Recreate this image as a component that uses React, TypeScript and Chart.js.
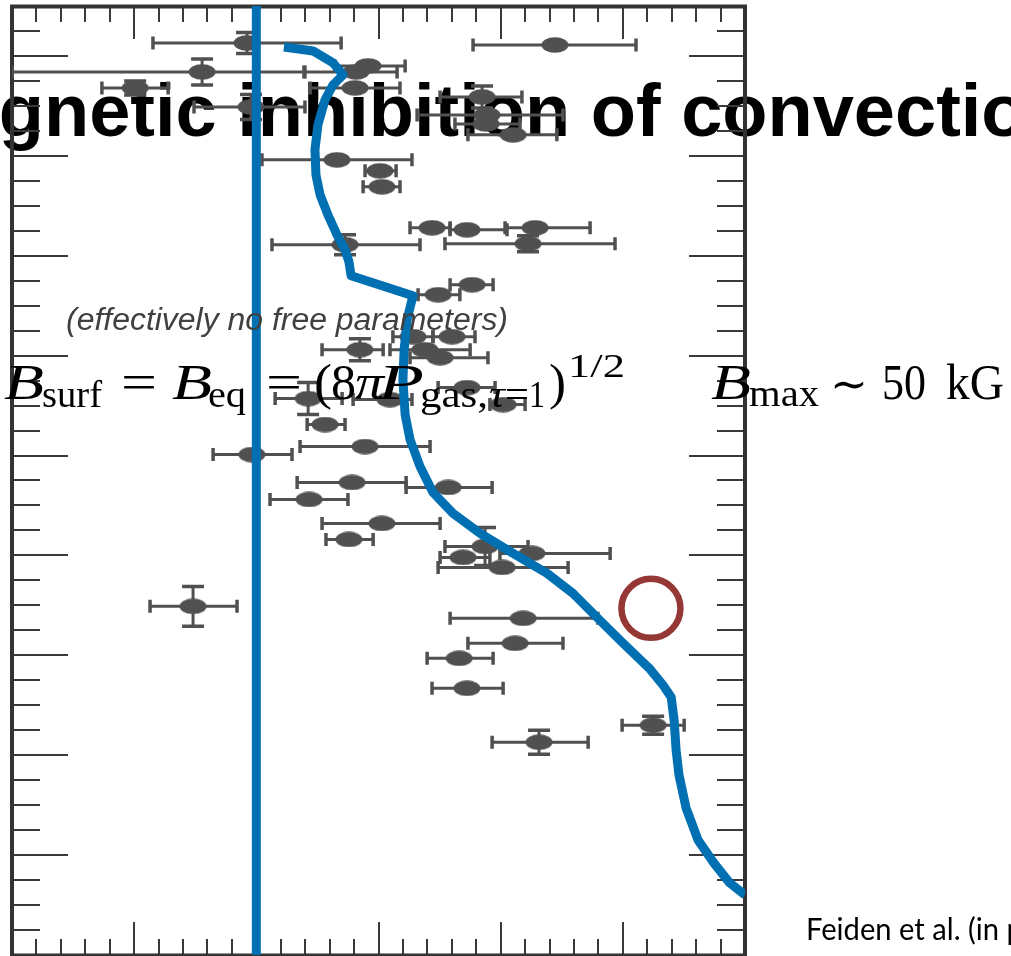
import React, { useEffect, useRef } from 'react';
import { Chart, registerables } from 'chart.js';

Chart.register(...registerables);

// ---- axis set-up (ticks only, no labels shown in the cropped figure) ----
const xMin = -10, xMax = 20, xMinor = 1, xMajor = 5;
const yMin = 0, yMax = 0.95, yMinor = 0.025, yMajor = 0.1;

// ---- observed stars: value, horizontal error range, vertical error ----
const ptX = [-0.38, 12.22, -2.22, 4.57, 4.08, -4.96, -0.22, 4.04, 9.24, 9.44, 9.40, 10.51, 3.30, 5.06, 5.14,
  7.19, 8.62, 11.41, 3.63, 11.12, 8.83, 7.44, 6.41, 8.01, 6.90, 7.52, 4.24, 2.12, 5.47, 8.62, 10.10, 2.81,
  -0.18, 4.45, 3.92, 7.85, 2.16, 5.14, 3.79, 9.36, 8.46, 11.28, 10.06, 10.92, 10.59, 8.30, 8.62, 16.24, 11.57, -2.59];
const ptY = [0.913, 0.911, 0.884, 0.890, 0.884, 0.868, 0.849, 0.868, 0.859, 0.841, 0.832, 0.821, 0.796, 0.785, 0.769,
  0.728, 0.726, 0.728, 0.711, 0.712, 0.671, 0.661, 0.619, 0.619, 0.606, 0.598, 0.606, 0.557, 0.556, 0.568, 0.551, 0.531,
  0.501, 0.509, 0.473, 0.468, 0.456, 0.432, 0.416, 0.409, 0.398, 0.402, 0.388, 0.337, 0.312, 0.297, 0.267, 0.230, 0.213, 0.349];
const ptXLo = [-4.23, 8.87, -10.0, 3.22, 1.99, -6.32, -2.55, 2.20, 7.52, 6.58, 8.13, 8.66, 0.23, 4.45, 4.37,
  6.29, 7.93, 10.18, 0.64, 7.72, 7.93, 6.62, 5.59, 7.23, 5.47, 6.29, 2.69, 0.77, 3.96, 7.44, 9.56, 2.08,
  -1.77, 1.79, 1.67, 6.13, 0.56, 2.69, 2.85, 7.72, 7.52, 9.97, 7.44, 7.93, 8.66, 6.99, 7.19, 14.97, 9.65, -4.35];
const ptXHi = [3.47, 15.54, 1.95, 6.09, 5.76, -3.61, 1.99, 5.88, 10.87, 12.55, 10.79, 12.30, 6.37, 5.72, 5.88,
  7.93, 10.26, 13.66, 6.70, 14.68, 9.69, 8.33, 7.23, 8.95, 8.75, 9.48, 5.19, 3.51, 6.37, 9.77, 11.00, 3.63,
  1.46, 7.11, 6.13, 9.65, 3.75, 7.52, 4.78, 11.12, 9.56, 14.48, 12.76, 13.98, 12.55, 9.69, 10.10, 17.51, 13.58, -0.79];
const ptYErr = [0.0105, 0, 0.013, 0, 0, 0.007, 0.0125, 0, 0.011, 0, 0, 0, 0, 0, 0,
  0, 0, 0, 0.010, 0.008, 0, 0, 0, 0, 0, 0, 0.011, 0.016, 0, 0, 0, 0,
  0, 0, 0, 0, 0, 0, 0, 0.019, 0, 0, 0, 0, 0, 0, 0, 0.009, 0.012, 0.020];

// ---- magnetic model track ----
const modelX = [1.13, 2.32, 3.14, 3.55, 3.14, 2.81, 2.52, 2.40, 2.44, 2.61, 2.93, 3.30, 3.63, 3.79, 3.88,
  6.41, 6.17, 6.05, 6.00, 6.09, 6.29, 6.70, 7.23, 8.05, 9.16, 10.51, 11.90, 12.96, 13.94, 14.89,
  16.12, 16.65, 16.98, 17.10, 17.18, 17.30, 17.59, 18.08, 18.73, 19.38, 20.0];
const modelY = [0.909, 0.905, 0.893, 0.881, 0.871, 0.856, 0.831, 0.806, 0.781, 0.761, 0.741, 0.721, 0.706, 0.694, 0.680,
  0.660, 0.636, 0.606, 0.576, 0.541, 0.516, 0.489, 0.463, 0.442, 0.422, 0.402, 0.382, 0.362, 0.338, 0.315,
  0.286, 0.270, 0.258, 0.235, 0.205, 0.180, 0.147, 0.115, 0.092, 0.072, 0.060];

// ---- zero-deviation reference line ----
const refX = [0, 0];
const refY = [0, 0.95];

// ---- highlighted star ----
const circleX = [16.15];
const circleY = [0.347];

const POINT_COLOR = '#505050';
const BLUE = '#0070b3';
const FRAME = '#333333';

function fitText(ctx: CanvasRenderingContext2D, text: string, x: number, y: number, font: string, color: string, width?: number) {
  ctx.font = font;
  ctx.fillStyle = color;
  ctx.textBaseline = 'alphabetic';
  ctx.textAlign = 'left';
  if (width) {
    const m = ctx.measureText(text).width || 1;
    ctx.save();
    ctx.translate(x, y);
    ctx.scale(width / m, 1);
    ctx.fillText(text, 0, 0);
    ctx.restore();
  } else {
    ctx.fillText(text, x, y);
  }
}

const titlePlugin = {
  id: 'slideTitle',
  beforeDraw(chart: any) {
    const ctx = chart.ctx as CanvasRenderingContext2D;
    ctx.save();
    fitText(ctx, 'Magnetic inhibition of convection', -104, 136, 'bold 74px "Liberation Sans", Arial, sans-serif', '#000000');
    ctx.restore();
  },
};

const framePlugin = {
  id: 'frameTicks',
  beforeDatasetsDraw(chart: any) {
    const { ctx, chartArea, scales } = chart;
    const { left, right, top, bottom } = chartArea;
    const xs = scales.x, ys = scales.y;
    ctx.save();
    ctx.strokeStyle = '#3a3a3a';
    ctx.lineWidth = 2;
    ctx.beginPath();
    const nx = Math.round((xMax - xMin) / xMinor);
    for (let i = 1; i < nx; i++) {
      const v = xMin + i * xMinor;
      const major = Math.abs(v / xMajor - Math.round(v / xMajor)) < 1e-6;
      const len = major ? 33 : 16;
      const p = Math.round(xs.getPixelForValue(v));
      ctx.moveTo(p, top); ctx.lineTo(p, top + len);
      ctx.moveTo(p, bottom); ctx.lineTo(p, bottom - len);
    }
    const ny = Math.round((yMax - yMin) / yMinor);
    for (let i = 1; i < ny; i++) {
      const v = yMin + i * yMinor;
      const major = Math.abs(v / yMajor - Math.round(v / yMajor)) < 1e-6;
      const len = major ? 56 : 28;
      const p = Math.round(ys.getPixelForValue(v));
      ctx.moveTo(left, p); ctx.lineTo(left + len, p);
      ctx.moveTo(right, p); ctx.lineTo(right - len, p);
    }
    ctx.stroke();
    ctx.strokeStyle = FRAME;
    ctx.lineWidth = 4;
    ctx.strokeRect(left, top + 0.5, right - left, bottom - top);
    ctx.restore();
  },
};

const errorBarPlugin = {
  id: 'errorBars',
  beforeDatasetsDraw(chart: any) {
    const { ctx, chartArea, scales } = chart;
    const xs = scales.x, ys = scales.y;
    ctx.save();
    ctx.beginPath();
    ctx.rect(chartArea.left, chartArea.top, chartArea.right - chartArea.left, chartArea.bottom - chartArea.top);
    ctx.clip();
    ctx.strokeStyle = POINT_COLOR;
    ctx.lineCap = 'butt';
    for (let i = 0; i < ptX.length; i++) {
      const px = xs.getPixelForValue(ptX[i]);
      const py = ys.getPixelForValue(ptY[i]);
      const l = xs.getPixelForValue(ptXLo[i]);
      const h = xs.getPixelForValue(ptXHi[i]);
      ctx.lineWidth = 3;
      ctx.beginPath();
      ctx.moveTo(l, py); ctx.lineTo(h, py);
      if (ptYErr[i] > 0) {
        const t = ys.getPixelForValue(ptY[i] + ptYErr[i]);
        const b = ys.getPixelForValue(ptY[i] - ptYErr[i]);
        ctx.moveTo(px, t); ctx.lineTo(px, b);
      }
      ctx.stroke();
      ctx.lineWidth = 3.5;
      ctx.beginPath();
      ctx.moveTo(l, py - 6.5); ctx.lineTo(l, py + 6.5);
      ctx.moveTo(h, py - 6.5); ctx.lineTo(h, py + 6.5);
      if (ptYErr[i] > 0) {
        const t = ys.getPixelForValue(ptY[i] + ptYErr[i]);
        const b = ys.getPixelForValue(ptY[i] - ptYErr[i]);
        ctx.moveTo(px - 11, t); ctx.lineTo(px + 11, t);
        ctx.moveTo(px - 11, b); ctx.lineTo(px + 11, b);
      }
      ctx.stroke();
    }
    ctx.restore();
  },
};

const textPlugin = {
  id: 'overlayText',
  afterDraw(chart: any) {
    const ctx = chart.ctx as CanvasRenderingContext2D;
    ctx.save();
    const serif = '"Liberation Serif", "DejaVu Serif", serif';
    const mainI = `italic 50px ${serif}`;
    const mainR = `50px ${serif}`;
    const subR = `38px ${serif}`;
    const subI = `italic 38px ${serif}`;
    const supR = `34px ${serif}`;
    const k = '#000000';
    const base = 399;
    const sub = 407;

    fitText(ctx, '(effectively no free parameters)', 66, 330, 'italic 31px "Liberation Sans", Arial, sans-serif', '#404040', 442);

    // B_surf = B_eq = (8 pi P_gas,tau=1)^(1/2)
    fitText(ctx, 'B', 4, base, mainI, k, 40);
    fitText(ctx, 'surf', 42, sub, subR, k, 60);
    fitText(ctx, '=', 121, base, mainR, k, 36);
    fitText(ctx, 'B', 172, base, mainI, k, 40);
    fitText(ctx, 'eq', 208, sub, subR, k, 38);
    fitText(ctx, '=', 266, base, mainR, k, 36);
    fitText(ctx, '(', 314, base, mainR, k, 18);
    fitText(ctx, '8', 331, base, mainR, k, 25);
    fitText(ctx, 'π', 355, base, mainI, k, 29);
    fitText(ctx, 'P', 378, base, mainI, k, 46);
    fitText(ctx, 'gas,', 420, sub, subR, k, 68);
    fitText(ctx, 'τ', 489, sub, subI, k, 16);
    fitText(ctx, '=', 505, sub, subR, k, 24);
    fitText(ctx, '1', 529, sub, subR, k, 16);
    fitText(ctx, ')', 549, base, mainR, k, 17);
    fitText(ctx, '1/2', 568, 377, supR, k, 57);

    // B_max ~ 50 kG
    fitText(ctx, 'B', 711, base, mainI, k, 40);
    fitText(ctx, 'max', 749, 406, subR, k, 70);
    fitText(ctx, '∼', 830, base, `44px "DejaVu Serif", ${serif}`, k, 38);
    fitText(ctx, '50', 882, base, mainR, k, 44);
    fitText(ctx, 'kG', 946, base, mainR, k, 58);

    // reference
    ctx.font = '30px Lato, "Open Sans", sans-serif';
    const w = ctx.measureText('Feiden et al. ').width || 1;
    const s = 162 / w;
    ctx.translate(806, 940);
    ctx.scale(s, 1);
    ctx.fillStyle = '#000000';
    ctx.fillText('Feiden et al. (in prep.)', 0, 0);
    ctx.restore();
  },
};

export default function App() {
  const ref = useRef<HTMLCanvasElement | null>(null);

  useEffect(() => {
    const canvas = ref.current;
    if (!canvas) return;
    document.body.style.margin = '0';

    const ellipse = document.createElement('canvas');
    ellipse.width = 28;
    ellipse.height = 16;
    const ec = ellipse.getContext('2d')!;
    ec.fillStyle = POINT_COLOR;
    ec.beginPath();
    ec.ellipse(14, 8, 13.5, 7.8, 0, 0, Math.PI * 2);
    ec.fill();

    const chart = new Chart(canvas, {
      type: 'scatter',
      data: {
        datasets: [
          {
            label: 'highlight',
            data: circleX.map((v, i) => ({ x: v, y: circleY[i] })),
            pointStyle: 'circle',
            pointRadius: 29.5,
            pointBorderWidth: 6.5,
            pointBorderColor: '#953735',
            pointBackgroundColor: 'rgba(0,0,0,0)',
            order: 1,
          } as any,
          {
            label: 'model',
            data: modelX.map((v, i) => ({ x: v, y: modelY[i] })),
            showLine: true,
            pointRadius: 0,
            borderWidth: 9,
            borderColor: BLUE,
            borderJoinStyle: 'round',
            tension: 0,
            order: 2,
          } as any,
          {
            label: 'reference',
            data: refX.map((v, i) => ({ x: v, y: refY[i] })),
            showLine: true,
            pointRadius: 0,
            borderWidth: 9,
            borderColor: BLUE,
            order: 3,
          } as any,
          {
            label: 'stars',
            data: ptX.map((v, i) => ({ x: v, y: ptY[i] })),
            pointStyle: ellipse,
            pointRadius: 8,
            order: 4,
          } as any,
        ],
      },
      options: {
        responsive: false,
        animation: false,
        events: [],
        layout: { autoPadding: false, padding: { left: 12, right: 266, top: 6, bottom: 1 } },
        scales: {
          x: { type: 'linear', min: xMin, max: xMax, display: false },
          y: { type: 'linear', min: yMin, max: yMax, display: false },
        },
        plugins: {
          legend: { display: false },
          tooltip: { enabled: false },
          title: { display: false },
        },
      },
      plugins: [titlePlugin, framePlugin, errorBarPlugin, textPlugin],
    });

    return () => chart.destroy();
  }, []);

  return (
    <div style={{ position: 'absolute', left: 0, top: 0, width: 1011, height: 956, background: '#ffffff' }}>
      <canvas ref={ref} width={1011} height={956} style={{ width: 1011, height: 956, display: 'block' }} />
    </div>
  );
}
